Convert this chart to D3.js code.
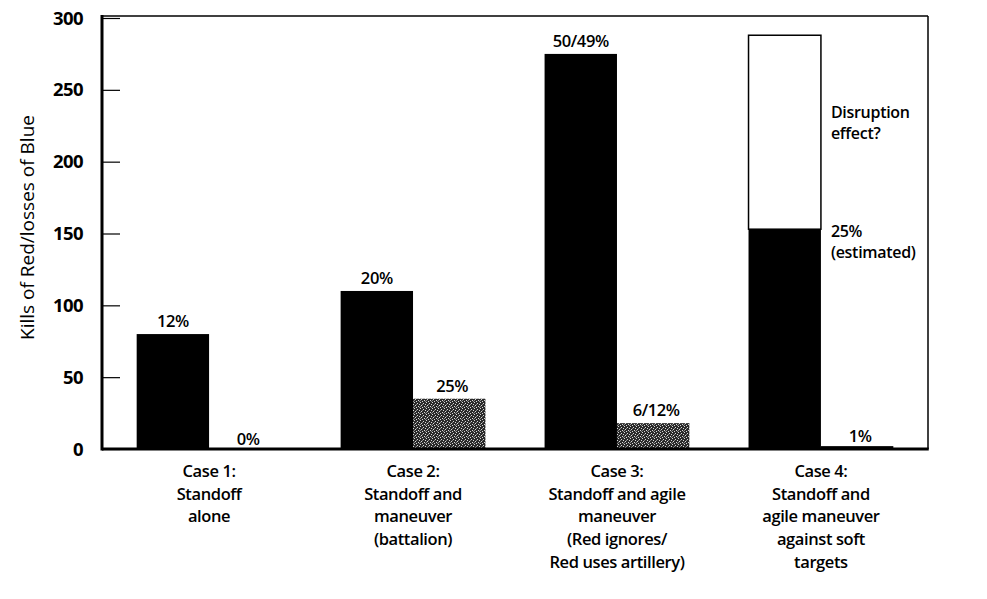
<!DOCTYPE html>
<html>
<head>
<meta charset="utf-8">
<script src="https://cdn.jsdelivr.net/npm/d3@7"></script>
<style>
  html, body { margin: 0; padding: 0; background: #fff; }
  svg { display: block; font-family: "Open Sans", "Noto Sans", sans-serif; }
</style>
</head>
<body>
<svg id="chart" width="987" height="599"></svg>
<script>
// ---- data ----
const cases = ["Case 1", "Case 2", "Case 3", "Case 4"];
const caseLabels = [
  ["Case 1:", "Standoff", "alone"],
  ["Case 2:", "Standoff and", "maneuver", "(battalion)"],
  ["Case 3:", "Standoff and agile", "maneuver", "(Red ignores/", "Red uses artillery)"],
  ["Case 4:", "Standoff and", "agile maneuver", "against soft", "targets"]
];
const series = ["redKills", "blueLosses"];
const redKills = [80, 110, 275, 153];
const blueLosses = [0, 35, 18, 2];
const disruptionTop = [null, null, null, 288];
const redLabels = ["12%", "20%", "50/49%", null];
const blueLabels = ["0%", "25%", "6/12%", "1%"];
const yTicks = [0, 50, 100, 150, 200, 250, 300];
const yTitle = "Kills of Red/losses of Blue";
const notes = [["Disruption", "effect?"], ["25%", "(estimated)"]];

// ---- layout ----
const svg = d3.select("#chart");
const mLeft = 102, mRight = 928, mTop = 16, mBottom = 449;
const y = d3.scaleLinear().domain([0, 300]).range([mBottom, 18]);
const x0 = d3.scaleBand().domain(cases).range([mLeft, mRight]).paddingInner(0.29).paddingOuter(0.17);
const x1 = d3.scaleBand().domain(series).range([0, x0.bandwidth()]).padding(0);

// stipple pattern for Blue losses
const defs = svg.append("defs");
const pat = defs.append("pattern").attr("id", "stipple")
  .attr("width", 6).attr("height", 6).attr("patternUnits", "userSpaceOnUse");
pat.append("rect").attr("width", 6).attr("height", 6).attr("fill", "#2a2a2a");
[[0,0],[3,1],[1,3],[4,4],[2,5],[5,2]].forEach(([a,b]) =>
  pat.append("rect").attr("x", a).attr("y", b).attr("width", 1).attr("height", 1).attr("fill", "#d8d8d8"));
[[2,2],[5,5],[0,4]].forEach(([a,b]) =>
  pat.append("rect").attr("x", a).attr("y", b).attr("width", 1).attr("height", 1).attr("fill", "#8a8a8a"));

// frame (top and right thin)
svg.append("line").attr("x1", mLeft).attr("x2", mRight).attr("y1", mTop).attr("y2", mTop)
  .attr("stroke", "#000").attr("stroke-width", 1.5);
svg.append("line").attr("x1", mRight).attr("x2", mRight).attr("y1", mTop).attr("y2", mBottom)
  .attr("stroke", "#000").attr("stroke-width", 1.5);

// y axis ticks (inward) and labels
const yAxis = d3.axisRight(y).tickValues(yTicks).tickSize(18).tickFormat("");
const gy = svg.append("g").attr("transform", `translate(${mLeft},0)`).call(yAxis);
gy.select(".domain").remove();
gy.selectAll(".tick line").attr("stroke", "#000").attr("stroke-width", 1.2);
svg.append("g").selectAll("text").data(yTicks).join("text")
  .attr("x", 83).attr("y", d => y(d)).attr("dy", "0.36em")
  .attr("text-anchor", "end").attr("font-size", 18.5).attr("font-weight", 700)
  .attr("letter-spacing", -0.6)
  .text(d => d);

// y title
svg.append("text").attr("transform", `translate(34,${(mTop + mBottom) / 2 - 5}) rotate(-90)`)
  .attr("text-anchor", "middle").attr("font-size", 19).text(yTitle);

// bars
const g = svg.append("g");
g.selectAll("rect.disr").data(cases.map((c, i) => ({c, v: disruptionTop[i], base: redKills[i]})).filter(d => d.v != null))
  .join("rect").attr("class", "disr")
  .attr("x", d => x0(d.c) + x1("redKills")).attr("width", x1.bandwidth())
  .attr("y", d => y(d.v)).attr("height", d => y(d.base) - y(d.v))
  .attr("fill", "#fff").attr("stroke", "#000").attr("stroke-width", 1.5);
g.selectAll("rect.red").data(cases.map((c, i) => ({c, v: redKills[i]})))
  .join("rect").attr("class", "red")
  .attr("x", d => x0(d.c) + x1("redKills")).attr("width", x1.bandwidth())
  .attr("y", d => y(d.v)).attr("height", d => y(0) - y(d.v)).attr("fill", "#000");
g.selectAll("rect.blue").data(cases.map((c, i) => ({c, v: blueLosses[i], i})))
  .join("rect").attr("class", "blue")
  .attr("x", d => x0(d.c) + x1("blueLosses")).attr("width", x1.bandwidth())
  .attr("y", d => y(d.v)).attr("height", d => y(0) - y(d.v))
  .attr("fill", d => d.i === 3 ? "#000" : "url(#stipple)");

// value labels
const lblFont = 16.5;
svg.append("g").selectAll("text").data(cases.map((c, i) => ({c, v: redKills[i], t: redLabels[i]})).filter(d => d.t))
  .join("text").attr("x", d => x0(d.c) + x1("redKills") + x1.bandwidth() / 2)
  .attr("y", d => y(d.v) - 7).attr("text-anchor", "middle").attr("font-size", lblFont).attr("font-weight", 600)
  .attr("letter-spacing", -0.4).text(d => d.t);
svg.append("g").selectAll("text").data(cases.map((c, i) => ({c, v: blueLosses[i], t: blueLabels[i]})))
  .join("text").attr("x", d => x0(d.c) + x1("blueLosses") + x1.bandwidth() / 2 + 3)
  .attr("y", d => y(d.v) - (d.v < 5 ? 4 : 7)).attr("text-anchor", "middle").attr("font-size", lblFont).attr("font-weight", 600)
  .attr("letter-spacing", -0.4).text(d => d.t);

// Case 4 notes
const nx = x0("Case 4") + x1("blueLosses") + 10;
[[notes[0], 118], [notes[1], 237]].forEach(([lines, yy]) => {
  svg.append("g").selectAll("text").data(lines).join("text")
    .attr("x", nx).attr("y", (d, i) => yy + i * 21)
    .attr("font-size", 16).attr("font-weight", 600).attr("letter-spacing", -0.3).text(d => d);
});

// axes lines (thick left and bottom)
svg.append("line").attr("x1", mLeft).attr("x2", mLeft).attr("y1", mTop - 1).attr("y2", mBottom + 1.5)
  .attr("stroke", "#000").attr("stroke-width", 3);
svg.append("line").attr("x1", mLeft).attr("x2", mRight + 0.75).attr("y1", mBottom).attr("y2", mBottom)
  .attr("stroke", "#000").attr("stroke-width", 3);

// category labels
const xAxis = d3.axisBottom(x0).tickSize(0).tickFormat("");
svg.append("g").attr("transform", `translate(0,${mBottom})`).call(xAxis).select(".domain").remove();
cases.forEach((c, i) => {
  const cx = x0(c) + x0.bandwidth() / 2;
  svg.append("g").selectAll("text").data(caseLabels[i]).join("text")
    .attr("x", cx).attr("y", (d, j) => 477 + j * 22.7)
    .attr("text-anchor", "middle").attr("font-size", 16.5).attr("font-weight", 600)
    .attr("letter-spacing", -0.4)
    .text(d => d);
});
</script>
</body>
</html>
